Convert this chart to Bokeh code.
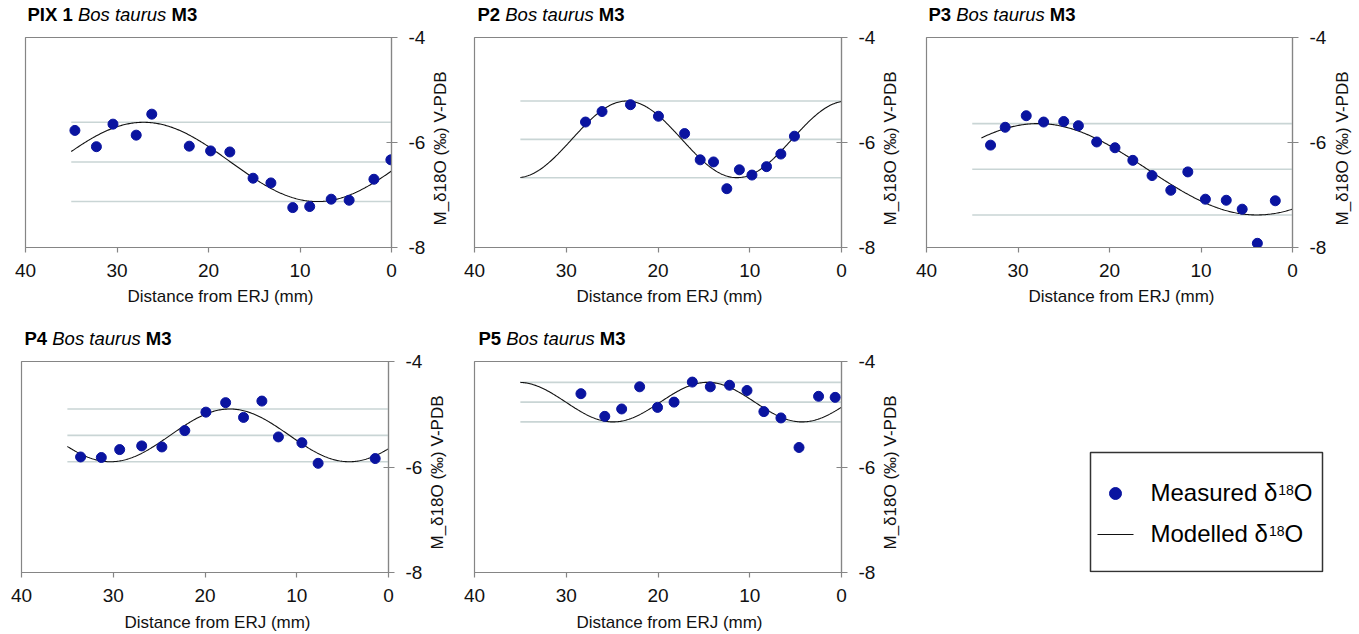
import numpy as np
from bokeh.plotting import figure
from bokeh.models import Range1d, FixedTicker
from bokeh.layouts import column, row
from bokeh.core.properties import value
from bokeh.embed import file_html
from bokeh.resources import INLINE

FONT = "Liberation Sans"
DOT = "#0a14a0"
AXIS = "#858585"
REF = "#c9d5d5"
TXT = "#111111"

# ---------------- data ----------------
panel_ids = ["PIX 1", "P2", "P3", "P4", "P5"]
species = "Bos taurus"
tooth = "M3"
x_label = "Distance from ERJ (mm)"
y_label = "M_δ18O (‰) V-PDB"

p1_x = [34.6, 32.25, 30.44, 27.9, 26.2, 22.1, 19.77, 17.67, 15.13, 13.18, 10.79, 8.94, 6.59, 4.63, 1.92, 0.07]
p1_y = [-5.77, -6.08, -5.65, -5.86, -5.46, -6.07, -6.16, -6.18, -6.68, -6.77, -7.24, -7.22, -7.08, -7.10, -6.70, -6.33]

p2_x = [27.9, 26.1, 23.0, 19.95, 17.1, 15.4, 13.95, 12.5, 11.13, 9.76, 8.17, 6.61, 5.13]
p2_y = [-5.61, -5.41, -5.28, -5.50, -5.83, -6.33, -6.37, -6.88, -6.52, -6.62, -6.46, -6.22, -5.88]

p3_x = [33.0, 31.4, 29.1, 27.2, 25.0, 23.4, 21.4, 19.4, 17.45, 15.35, 13.3, 11.44, 9.52, 7.24, 5.5, 3.84, 1.88]
p3_y = [-6.05, -5.71, -5.49, -5.61, -5.60, -5.68, -5.99, -6.10, -6.34, -6.63, -6.91, -6.56, -7.08, -7.10, -7.27, -7.92, -7.11]

p4_x = [33.56, 31.3, 29.3, 26.9, 24.7, 22.2, 19.9, 17.75, 15.8, 13.8, 12.0, 9.44, 7.67, 1.45]
p4_y = [-5.81, -5.82, -5.67, -5.60, -5.62, -5.31, -4.96, -4.78, -5.06, -4.75, -5.43, -5.54, -5.93, -5.84]

p5_x = [28.4, 25.8, 23.96, 22.0, 20.05, 18.25, 16.26, 14.3, 12.2, 10.3, 8.46, 6.6, 4.63, 2.5, 0.69]
p5_y = [-4.61, -5.04, -4.90, -4.48, -4.87, -4.77, -4.39, -4.48, -4.45, -4.55, -4.95, -5.07, -5.63, -4.66, -4.68]

measured_x = [p1_x, p2_x, p3_x, p4_x, p5_x]
measured_y = [p1_y, p2_y, p3_y, p4_y, p5_y]

# modelled (sinusoidal) d18O: parameters
model_mean = [-6.37, -5.94, -6.51, -5.40, -4.77]
model_amp = [0.755, 0.73, 0.87, 0.50, 0.375]
model_period = [38.0, 24.0, 47.8, 26.0, 20.6]
model_peak = [27.1, 23.4, 27.8, 17.3, 14.6]
model_start = [35.0, 35.0, 34.0, 35.0, 35.0]
ref_start = 35.0

x_ticks = [0, 10, 20, 30, 40]
y_ticks = [-8, -6, -4]
y_tick_text = {-8: "-8", -6: "-6", -4: "-4"}

# ---------------- layout geometry (page pixels) ----------------
PAGE_W = 1359
PAGE_H = 634
ROWS = [(25, 285), (349, 610)]   # panel canvas top/bottom per row
FRAME_H = [210, 211]
BT = 12                          # room above the frame for the top tick label
# per panel: canvas x0, border_left, frame width, border_right, row
panel_geom = [
    (0, 25, 368, 35, 0),
    (458, 16, 369, 35, 0),
    (908, 18, 368, 35, 0),
    (0, 21, 369, 35, 1),
    (458, 16, 369, 35, 1),
]
next_x = [458, 908, PAGE_W, 458, 908]
# text positions: (x, vertical centre of the capitals)
ylab_center = [(440, 148), (890, 148), (1342, 148), (437, 472), (890, 472)]
xlab_pos = [(220, 296), (669, 296), (1121, 296), (217, 622), (669, 622)]
title_pos = [(27, 13.8), (477, 13.8), (928, 13.8), (24, 337.8), (478, 337.8)]

TITLE_SIZE = 18.5
W_BOLD = {"P": 667, "I": 278, "X": 667, " ": 278, "1": 556, "2": 556, "3": 556, "4": 556, "5": 556, "M": 833}
W_REG = {"B": 667, "o": 556, "s": 500, " ": 278, "t": 278, "a": 556, "u": 556, "r": 333}


def text_w(s, table, size):
    return sum(table[c] for c in s) * size / 1000.0


def row_borders(r):
    top, bottom = ROWS[r]
    return bottom - top - BT - FRAME_H[r]


def Y(v):
    # page pixel row -> data y of the pixel-mapped helper figures (y grows upward)
    return -v


def pixfig(x0, x1, y0, y1, bt=0, bb=0):
    """Figure whose data coordinates equal page pixels (frame = y0+bt .. y1-bb)."""
    f = figure(width=x1 - x0, height=y1 - y0, x_range=Range1d(x0, x1),
               y_range=Range1d(Y(y1 - bb), Y(y0 + bt)), title=None,
               x_axis_location=None, y_axis_location=None, min_border=0,
               min_border_top=bt, min_border_bottom=bb,
               output_backend="svg", toolbar_location=None)
    f.grid.visible = False
    f.outline_line_color = None
    f.background_fill_color = "white"
    f.border_fill_color = "white"
    return f


def make_panel(i):
    x0, bl, fw, br, r = panel_geom[i]
    top, bottom = ROWS[r]
    H = bottom - top
    bb = row_borders(r)
    W = bl + fw + br
    p = figure(width=W, height=H, x_range=Range1d(40, 0), y_range=Range1d(-8, -4),
               y_axis_location="right", output_backend="svg", toolbar_location=None, title=None,
               min_border=0, min_border_left=bl, min_border_right=br,
               min_border_top=BT, min_border_bottom=bb)
    p.grid.visible = False
    p.outline_line_color = AXIS
    p.outline_line_width = 1.2
    p.background_fill_color = "white"
    p.border_fill_color = "white"

    for ax in (p.xaxis[0], p.yaxis[0]):
        ax.axis_line_color = AXIS
        ax.axis_line_width = 1.2
        ax.major_tick_line_color = AXIS
        ax.major_tick_line_width = 1.2
        ax.minor_tick_line_color = None
        ax.major_label_text_font = FONT
        ax.major_label_text_font_size = "19px"
        ax.major_label_text_color = TXT

    xa = p.xaxis[0]
    xa.ticker = FixedTicker(ticks=x_ticks)
    xa.major_tick_out = 5
    xa.major_tick_in = 0
    xa.major_label_standoff = 11

    ya = p.yaxis[0]
    ya.ticker = FixedTicker(ticks=y_ticks)
    ya.major_label_overrides = y_tick_text
    ya.major_tick_out = 6
    ya.major_tick_in = 5
    ya.major_label_standoff = 11

    # reference lines (model max, mean, min)
    m, a = model_mean[i], model_amp[i]
    for lv in (m + a, m, m - a):
        p.line([ref_start, 0], [lv, lv], line_color=REF, line_width=1.6)

    # modelled curve
    xs = np.linspace(model_start[i], 0, 300)
    ys = m + a * np.cos(2 * np.pi * (xs - model_peak[i]) / model_period[i])
    p.line(xs, ys, line_color="#111111", line_width=1.1)

    # measured points
    p.scatter(measured_x[i], measured_y[i], size=10, fill_color=DOT, line_color=DOT)
    return p, x0 + W


def add_title(f, i):
    tx, ty = title_pos[i]
    s = TITLE_SIZE
    pid = panel_ids[i]
    w1 = text_w(pid + " ", W_BOLD, s)
    w2 = text_w(species + " ", W_REG, s)
    for txt, off, style in [(pid, 0, "bold"), (species, w1, "italic"), (tooth, w1 + w2, "bold")]:
        f.text(x=[tx + off], y=[Y(ty)], text=[txt], text_font=value(FONT), text_font_size=f"{s}px",
               text_font_style=style, text_color="#000000", text_baseline="middle", text_align="left")


def add_xlabel(f, i):
    cx, cy = xlab_pos[i]
    f.text(x=[cx], y=[Y(cy)], text=[x_label], text_font=value(FONT), text_font_size="17px",
           text_color=TXT, text_baseline="middle", text_align="center")


# strips holding titles and x-axis labels
strip_a = pixfig(0, PAGE_W, 0, ROWS[0][0])
strip_b = pixfig(0, PAGE_W, ROWS[0][1], ROWS[1][0])
strip_c = pixfig(0, PAGE_W, ROWS[1][1], PAGE_H)
for i in range(3):
    add_title(strip_a, i)
    add_xlabel(strip_b, i)
for i in range(3, 5):
    add_title(strip_b, i)
    add_xlabel(strip_c, i)

# panels + y-axis label columns (frames aligned with the panels' frames)
row_items = [[], []]
for i in range(5):
    p, xend = make_panel(i)
    r = panel_geom[i][4]
    top, bottom = ROWS[r]
    lab = pixfig(xend, next_x[i], top, bottom, bt=BT, bb=row_borders(r))
    cx, cy = ylab_center[i]
    lab.text(x=[cx], y=[Y(cy)], text=[y_label], angle=np.pi / 2, text_font=value(FONT),
             text_font_size="17px", text_color=TXT, text_baseline="middle", text_align="center")
    row_items[r] += [p, lab]

# ---------------- legend panel (pixel-mapped) ----------------
lg = pixfig(908, PAGE_W, ROWS[1][0], ROWS[1][1], bt=BT, bb=row_borders(1))
lg.quad(left=[1090], right=[1322], top=[Y(452)], bottom=[Y(571)], fill_color=None,
        line_color="#333333", line_width=1.5)
lg.scatter([1115], [Y(493)], size=12, fill_color=DOT, line_color=DOT)
lg.line([1097, 1133], [Y(534), Y(534)], line_color="#111111", line_width=1.2)

LS = 24
SS = 14
# (text, left x, centre of capitals, centre of superscript)
legend_rows = [("Measured δ", 1150, 492, 489), ("Modelled δ", 1150, 533, 530)]
W_LEG = {"M": 833, "e": 556, "a": 556, "s": 500, "u": 556, "r": 333, "d": 556, " ": 278,
         "δ": 556, "o": 556, "l": 222}
for txt, lx, yc, ys_ in legend_rows:
    w = sum(W_LEG[c] for c in txt) * LS / 1000.0
    lg.text(x=[lx], y=[Y(yc)], text=[txt], text_font=value(FONT), text_font_size=f"{LS}px",
            text_baseline="middle", text_align="left", text_color="#000000")
    lg.text(x=[lx + w + 1], y=[Y(ys_)], text=["18"], text_font=value(FONT), text_font_size=f"{SS}px",
            text_baseline="middle", text_align="left", text_color="#000000")
    lg.text(x=[lx + w + 1 + 1112 * SS / 1000.0], y=[Y(yc)], text=["O"], text_font=value(FONT),
            text_font_size=f"{LS}px", text_baseline="middle", text_align="left", text_color="#000000")
row_items[1].append(lg)

layout = column(strip_a, row(*row_items[0]), strip_b, row(*row_items[1]), strip_c)

open("out.html", "w").write(file_html(layout, INLINE))
